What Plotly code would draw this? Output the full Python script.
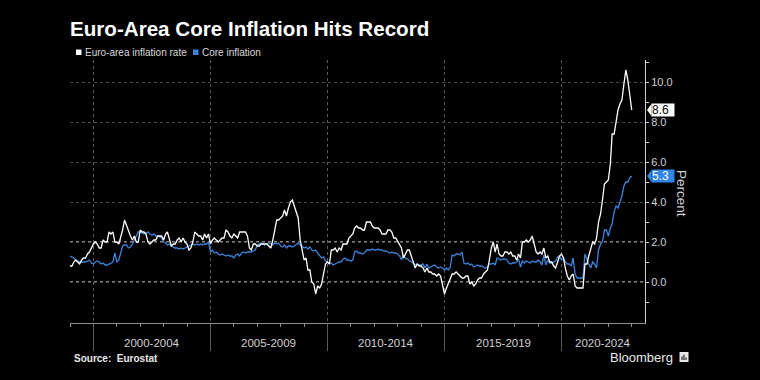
import plotly.graph_objects as go
import pandas as pd

# ---------------- data ----------------
start_month = "1999-01-01"

headline = [
    0.8, 0.8, 1.0, 1.1, 1.0, 0.9, 1.1, 1.2, 1.2, 1.4, 1.5, 1.7,      # 1999
    1.9, 2.0, 1.9, 1.7, 1.7, 2.1, 2.0, 2.0, 2.5, 2.4, 2.5, 2.0,      # 2000
    2.0, 1.9, 2.2, 2.6, 3.1, 2.8, 2.5, 2.3, 2.1, 2.3, 2.0, 2.0,      # 2001
    2.6, 2.5, 2.5, 2.4, 2.0, 1.9, 2.0, 2.1, 2.1, 2.3, 2.3, 2.3,      # 2002
    2.1, 2.4, 2.5, 2.1, 1.8, 1.9, 1.9, 2.1, 2.2, 2.0, 2.2, 2.0,      # 2003
    1.9, 1.6, 1.7, 2.0, 2.5, 2.4, 2.3, 2.3, 2.1, 2.4, 2.2, 2.4,      # 2004
    1.9, 2.1, 2.2, 2.1, 2.0, 2.1, 2.2, 2.2, 2.6, 2.5, 2.3, 2.2,      # 2005
    2.4, 2.3, 2.2, 2.5, 2.5, 2.5, 2.5, 2.3, 1.7, 1.6, 1.9, 1.9,      # 2006
    1.8, 1.8, 1.9, 1.9, 1.9, 1.9, 1.8, 1.7, 2.1, 2.6, 3.1, 3.1,      # 2007
    3.2, 3.3, 3.6, 3.3, 3.7, 4.0, 4.1, 3.8, 3.6, 3.2, 2.1, 1.6,      # 2008
    1.1, 1.2, 0.6, 0.6, 0.0, -0.1, -0.6, -0.2, -0.3, -0.1, 0.5, 0.9, # 2009
    1.0, 0.9, 1.6, 1.6, 1.7, 1.5, 1.7, 1.6, 1.9, 1.9, 1.9, 2.2,      # 2010
    2.3, 2.4, 2.7, 2.8, 2.7, 2.7, 2.6, 2.6, 3.0, 3.0, 3.0, 2.8,      # 2011
    2.7, 2.7, 2.7, 2.6, 2.4, 2.4, 2.4, 2.6, 2.6, 2.5, 2.2, 2.2,      # 2012
    2.0, 1.8, 1.7, 1.2, 1.4, 1.6, 1.6, 1.3, 1.1, 0.7, 0.9, 0.8,      # 2013
    0.8, 0.7, 0.5, 0.7, 0.5, 0.5, 0.4, 0.4, 0.3, 0.4, 0.3, -0.2,     # 2014
    -0.6, -0.3, -0.1, 0.1, 0.4, 0.4, 0.5, 0.4, 0.3, 0.2, 0.2, 0.3,   # 2015
    0.3, -0.1, 0.0, -0.2, -0.1, 0.1, 0.2, 0.2, 0.4, 0.5, 0.6, 1.1,   # 2016
    1.7, 2.0, 1.5, 1.9, 1.4, 1.3, 1.3, 1.5, 1.5, 1.4, 1.5, 1.3,      # 2017
    1.3, 1.1, 1.4, 1.2, 2.0, 2.0, 2.1, 2.0, 2.1, 2.3, 1.9, 1.5,      # 2018
    1.4, 1.5, 1.4, 1.7, 1.2, 1.3, 1.0, 1.0, 0.8, 0.7, 1.0, 1.3,      # 2019
    1.4, 1.2, 0.7, 0.3, 0.1, 0.3, 0.4, -0.2, -0.3, -0.3, -0.3, -0.3, # 2020
    0.9, 0.9, 1.3, 1.6, 2.0, 1.9, 2.2, 3.0, 3.4, 4.1, 4.9, 5.0,      # 2021
    5.1, 5.9, 7.4, 7.4, 8.1, 8.6, 8.9, 9.1, 9.9, 10.6, 10.1, 9.2,    # 2022
    8.6,                                                             # 2023
]

core = [
    1.3, 1.25, 1.2, 1.1, 1.05, 1.0, 1.0, 1.0, 1.0, 1.05, 1.1, 0.95,  # 1999
    0.9, 1.0, 1.05, 1.0, 0.9, 0.95, 0.85, 0.85, 0.9, 0.95, 1.0, 1.45, # 2000
    1.0, 1.1, 1.5, 1.8, 1.85, 1.85, 1.7, 1.75, 1.9, 2.1, 2.3, 2.5,   # 2001
    2.5, 2.45, 2.4, 2.45, 2.5, 2.4, 2.35, 2.4, 2.3, 2.3, 2.25, 2.2,  # 2002
    2.0, 1.95, 1.85, 1.9, 1.8, 1.75, 1.7, 1.7, 1.65, 1.7, 1.65, 1.7, # 2003
    1.75, 1.8, 1.85, 1.9, 1.85, 1.9, 1.85, 1.9, 1.85, 1.9, 1.9, 2.0, # 2004
    1.5, 1.6, 1.45, 1.5, 1.4, 1.35, 1.4, 1.35, 1.3, 1.35, 1.3, 1.3,  # 2005
    1.2, 1.35, 1.4, 1.3, 1.45, 1.5, 1.45, 1.5, 1.5, 1.5, 1.55, 1.6,  # 2006
    1.85, 1.9, 1.95, 1.9, 1.85, 1.9, 1.95, 1.9, 1.85, 1.95, 1.9, 1.95, # 2007
    1.8, 1.75, 1.85, 1.7, 1.8, 1.8, 1.75, 1.8, 1.9, 1.95, 1.85, 1.75, # 2008
    1.7, 1.75, 1.65, 1.75, 1.6, 1.55, 1.6, 1.45, 1.3, 1.2, 1.25, 1.05, # 2009
    1.0, 0.9, 0.95, 0.85, 0.9, 0.95, 1.0, 1.0, 1.15, 1.2, 1.1, 1.1,  # 2010
    1.05, 1.1, 1.5, 1.55, 1.45, 1.45, 1.4, 1.45, 1.6, 1.6, 1.6, 1.65, # 2011
    1.6, 1.6, 1.65, 1.6, 1.6, 1.55, 1.55, 1.5, 1.45, 1.5, 1.45, 1.45, # 2012
    1.4, 1.3, 1.1, 1.35, 1.2, 1.15, 1.05, 1.0, 0.95, 0.85, 0.9, 0.85, # 2013
    0.85, 0.9, 0.7, 0.9, 0.7, 0.75, 0.8, 0.85, 0.75, 0.7, 0.75, 0.7, # 2014
    0.6, 0.7, 0.6, 0.75, 1.35, 1.3, 1.4, 1.4, 1.35, 1.5, 0.95, 0.9,  # 2015
    0.95, 0.85, 0.9, 0.75, 0.8, 0.85, 0.8, 0.8, 0.75, 0.7, 0.75, 0.9, # 2016
    0.9, 0.95, 0.85, 1.2, 1.15, 1.1, 1.15, 1.15, 1.1, 0.95, 0.9, 0.95, # 2017
    0.95, 1.0, 1.15, 0.75, 1.05, 0.95, 1.05, 1.0, 0.95, 1.05, 1.0, 1.0, # 2018
    1.1, 1.0, 0.85, 1.35, 0.85, 1.1, 0.95, 0.95, 1.0, 1.05, 1.25, 1.3, # 2019
    1.1, 1.2, 1.0, 0.9, 0.9, 0.8, 1.2, 0.4, 0.2, 0.2, 0.2, 0.2,      # 2020
    1.4, 1.1, 0.9, 0.7, 1.0, 0.9, 0.7, 1.6, 1.9, 2.0, 2.6, 2.6,      # 2021
    2.3, 2.7, 2.9, 3.5, 3.8, 3.7, 4.0, 4.3, 4.8, 5.0, 5.0, 5.2,      # 2022
    5.3,                                                             # 2023
]

series_names = ["Euro-area inflation rate", "Core inflation"]
series_colors = ["#ffffff", "#3a84dc"]
label_text_colors = ["#000000", "#ffffff"]

period_labels = ["2000-2004", "2005-2009", "2010-2014", "2015-2019", "2020-2024"]
period_starts = ["2000-01-01", "2005-01-01", "2010-01-01", "2015-01-01", "2020-01-01"]
x_range = ["1999-01-01", "2023-07-27"]
y_range = [-2.05, 11.1]
y_ticks = [0, 2, 4, 6, 8, 10]
y_minor = [-1, 1, 3, 5, 7, 9, 11]
highlight_levels = [0, 2]

# ---------------- layout geometry ----------------
W, H = 760, 380
ML, MR, MT, MB = 70, 115, 60, 57
PW, PH = W - ML - MR, H - MT - MB


def px_x(px):
    return (px - ML) / PW


def px_y(py):
    return (H - MB - py) / PH


FONT = "Liberation Sans"
dates = pd.date_range(start_month, periods=len(headline), freq="MS")

fig = go.Figure()
for vals, name, col in [(core, series_names[1], series_colors[1]),
                        (headline, series_names[0], series_colors[0])]:
    fig.add_trace(go.Scatter(x=dates, y=vals, mode="lines", name=name,
                             line=dict(color=col, width=1.3), showlegend=False,
                             hoverinfo="skip"))

shapes = []
annotations = []

# brighter reference lines
for lvl in highlight_levels:
    shapes.append(dict(type="line", xref="paper", yref="y", x0=0, x1=1, y0=lvl, y1=lvl,
                       line=dict(color="#a8a8a8", width=1.4, dash="dot"), layer="below"))

# period labels
ends = period_starts[1:] + [x_range[1]]
for lab, s, e in zip(period_labels, period_starts, ends):
    mid = pd.Timestamp(s) + (pd.Timestamp(e) - pd.Timestamp(s)) / 2
    annotations.append(dict(x=mid, xref="x", y=px_y(343), yref="paper", text=lab,
                            showarrow=False, xanchor="center", yanchor="middle",
                            font=dict(family=FONT, size=11.5, color="#d0d0d0")))

# last-value labels
for vals, col, tcol in [(headline, series_colors[0], label_text_colors[0]),
                        (core, "#2f86e8", label_text_colors[1])]:
    v = vals[-1]
    annotations.append(dict(x=1, xref="paper", y=v, yref="y", xshift=6, xanchor="left",
                            yanchor="middle", text=f"{v:.1f}", showarrow=False,
                            bgcolor=col, borderpad=0, width=22, height=12, align="left",
                            font=dict(family=FONT, size=12, color=tcol)))
    hh = 6 / 20.0
    shapes.append(dict(type="path", xref="paper", yref="y",
                       path=f"M {1 + 2 / PW} {v} L {1 + 6.5 / PW} {v + hh} L {1 + 6.5 / PW} {v - hh} Z",
                       fillcolor=col, line=dict(width=0)))

# axis title
annotations.append(dict(x=px_x(682), xref="paper", y=px_y(193), yref="paper", text="Percent",
                        textangle=90, showarrow=False, xanchor="center", yanchor="middle",
                        font=dict(family=FONT, size=13.5, color="#d0d0d0")))

# legend (squares + text)
legend_pos = [(76, 83), (193, 200)]
for (sq, tx), name, col in zip(legend_pos, series_names, series_colors):
    shapes.append(dict(type="rect", xref="paper", yref="paper",
                       x0=px_x(sq), x1=px_x(sq + 5.5), y0=px_y(55), y1=px_y(49.5),
                       fillcolor=col, line=dict(width=0)))
    annotations.append(dict(x=px_x(tx), xref="paper", y=px_y(52.5), yref="paper", text=name,
                            showarrow=False, xanchor="left", yanchor="middle",
                            font=dict(family=FONT, size=10, color="#d8d8d8")))

# source & branding
annotations.append(dict(x=px_x(72), xref="paper", y=px_y(358), yref="paper",
                        text="<b>Source:  Eurostat</b>", showarrow=False, xanchor="left",
                        yanchor="middle", font=dict(family=FONT, size=10, color="#e8e8e8")))
annotations.append(dict(x=px_x(675), xref="paper", y=px_y(357), yref="paper",
                        text="Bloomberg", showarrow=False, xanchor="right",
                        yanchor="middle", font=dict(family=FONT, size=13, color="#e8e8e8")))
shapes.append(dict(type="rect", xref="paper", yref="paper", x0=px_x(679.5), x1=px_x(688.5),
                   y0=px_y(362), y1=px_y(352), fillcolor="#e8e8e8", line=dict(width=0)))
for bx, top in [(682, 356.5), (684, 354.5), (686, 357.5)]:
    shapes.append(dict(type="line", xref="paper", yref="paper", x0=px_x(bx), x1=px_x(bx),
                       y0=px_y(360), y1=px_y(top), line=dict(color="#000000", width=1)))

fig.update_layout(
    width=W, height=H,
    paper_bgcolor="#000000", plot_bgcolor="#000000",
    margin=dict(l=ML, r=MR, t=MT, b=MB),
    title=dict(text="<b>Euro-Area Core Inflation Hits Record</b>", x=ML / W, xref="container",
               xanchor="left", y=1 - 29 / H, yanchor="middle",
               font=dict(family=FONT, size=20.6, color="#ffffff")),
    showlegend=False,
    hovermode=False,
    xaxis=dict(type="date", range=x_range, showline=True, linecolor="#8a8a8a", linewidth=1,
               ticks="outside", ticklen=27, tickcolor="#5a5a5a", tickwidth=1,
               tick0="2000-01-01", dtick="M60", showticklabels=False,
               showgrid=True, gridcolor="#5a5a5a", griddash="dot", gridwidth=1,
               zeroline=False,
               minor=dict(ticks="outside", ticklen=3, dtick="M12", tick0="2000-01-01",
                          tickcolor="#8a8a8a", showgrid=False)),
    yaxis=dict(side="right", range=y_range, tickmode="array", tickvals=y_ticks,
               ticktext=[f"{t:.1f}" for t in y_ticks],
               tickfont=dict(family=FONT, size=11, color="#d0d0d0"),
               ticks="outside", ticklen=3, tickcolor="#d0d0d0",
               showline=True, linecolor="#d0d0d0", linewidth=1,
               showgrid=True, gridcolor="#4a4a4a", griddash="dot", gridwidth=1,
               zeroline=False,
               minor=dict(tickmode="array", tickvals=y_minor, ticks="outside", ticklen=3,
                          tickcolor="#d0d0d0", showgrid=False)),
    shapes=shapes,
    annotations=annotations,
)

fig.write_html(
    "out.html",
    config={"displayModeBar": False},
    post_script="document.body.style.margin='0';document.body.style.background='#000';",
)
